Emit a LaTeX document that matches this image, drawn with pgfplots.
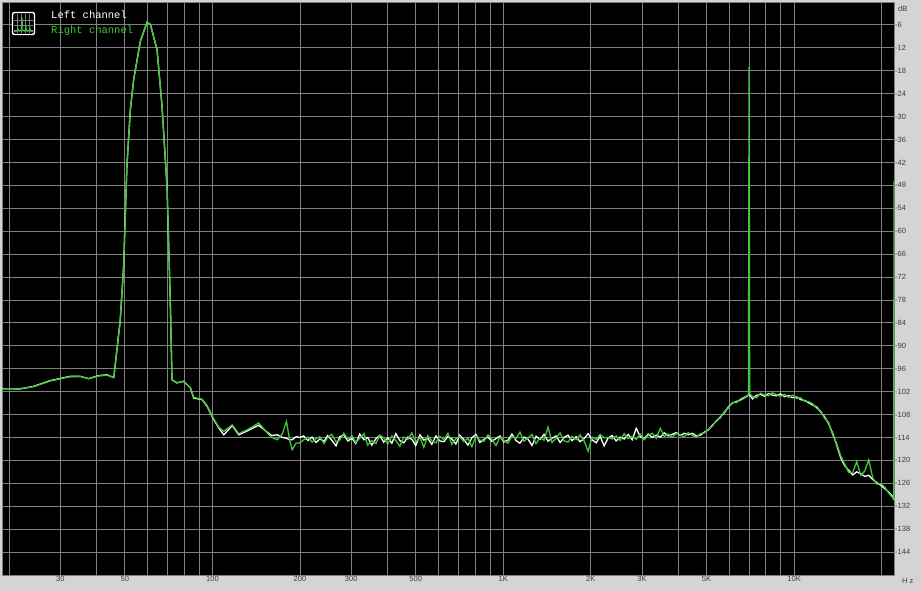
\documentclass[border=0pt]{standalone}
\usepackage{fontspec}
\setmainfont{Liberation Sans}
\newfontfamily\monofont{Liberation Mono}
\usepackage{pgfplots}
\usepackage{pgfplotstable}
\pgfplotsset{compat=1.18}
\definecolor{bggray}{RGB}{212,212,212}
\definecolor{gridgray}{RGB}{128,128,128}
\definecolor{chgreen}{RGB}{64,200,56}
\definecolor{labgray}{RGB}{60,60,60}

\pgfplotstableread{
f L R
18.6 -101.2 -101.3
21.8 -101.3 -101.2
24.3 -100.6 -100.7
27.7 -99.1 -99.2
32.4 -98.0 -98.1
35.1 -98.0 -98.0
37.5 -98.6 -98.6
40.6 -97.8 -97.9
43.4 -97.6 -97.7
45.8 -98.3 -98.3
48.2 -83.2 -83.2
49.5 -69.2 -69.2
50.8 -43.0 -43.0
52.2 -28.2 -28.2
53.6 -20.3 -20.3
56.5 -10.3 -10.3
59.6 -5.3 -5.3
61.2 -5.9 -5.9
64.5 -12.5 -12.5
67.1 -27.3 -27.3
69.8 -48.3 -48.3
71.6 -77.9 -77.9
72.6 -98.9 -98.9
75.5 -99.7 -99.7
79.6 -99.3 -99.3
84.0 -101.0 -101.0
86.2 -103.7 -103.5
92.2 -104.1 -104.0
95.9 -105.9 -105.7
101 -109.3 -109.1
105.1 -111.5 -111.3
109.4 -113.3 -112.4
116.9 -110.9 -110.7
123.2 -113.3 -113.0
131.6 -112.3 -112.0
144.2 -110.8 -110.2
154.2 -112.6 -112.8
160 -113.5 -114.0
167 -113.3 -114.6
174 -114.0 -113.0
179.8 -114.2 -109.8
184 -114.6 -114.5
188 -114.6 -117.2
194 -113.8 -115.5
200 -114.0 -115.4
206 -113.6 -114.6
213 -114.8 -113.9
220 -113.9 -115.2
227 -115.3 -114.3
234 -114.4 -113.8
242 -115.0 -115.6
249 -113.5 -114.0
257 -114.7 -113.2
266 -116.2 -115.1
274 -113.8 -114.7
283 -113.3 -112.9
292 -114.9 -114.4
302 -114.2 -113.6
311 -115.6 -115.3
321 -113.1 -114.2
332 -114.6 -113.0
342 -114.0 -116.0
353 -116.0 -114.8
365 -114.3 -115.6
376 -113.5 -113.4
388 -115.2 -114.1
401 -114.1 -115.7
414 -115.5 -113.6
427 -113.0 -114.8
441 -114.8 -116.3
455 -115.4 -113.9
470 -113.9 -114.5
485 -114.5 -112.8
500 -116.1 -115.2
517 -113.3 -114.0
533 -114.7 -116.6
550 -114.2 -113.5
568 -115.8 -114.9
587 -113.6 -115.4
605 -114.9 -113.7
625 -115.1 -114.6
645 -113.8 -112.9
666 -114.4 -115.8
687 -115.7 -114.3
709 -113.4 -113.8
732 -114.6 -115.1
756 -116.0 -114.2
780 -114.1 -116.4
805 -113.2 -113.6
831 -115.3 -114.7
858 -114.5 -115.0
886 -113.9 -113.3
914 -115.0 -114.5
944 -114.3 -116.1
974 -113.6 -113.9
1005 -115.2 -114.8
1038 -114.7 -115.5
1071 -113.1 -113.7
1106 -114.8 -114.3
1141 -115.5 -112.6
1178 -113.9 -115.0
1216 -114.4 -114.1
1255 -116.1 -113.2
1296 -113.7 -115.6
1338 -114.5 -114.0
1381 -113.2 -114.7
1425 -115.0 -111.3
1471 -114.2 -115.3
1519 -113.6 -114.2
1568 -115.3 -112.8
1618 -114.0 -114.9
1670 -113.4 -115.2
1724 -114.8 -113.7
1780 -113.8 -114.6
1837 -115.1 -113.3
1896 -114.3 -114.9
1958 -113.0 -117.6
2021 -114.6 -113.9
2086 -115.4 -114.5
2153 -113.7 -113.2
2222 -116.2 -114.1
2294 -114.1 -114.0
2368 -113.5 -114.4
2444 -114.9 -113.6
2523 -113.9 -114.8
2605 -114.4 -113.0
2689 -113.2 -114.3
2775 -114.6 -113.8
2865 -111.6 -114.5
2957 -113.8 -113.1
3052 -114.3 -114.6
3151 -113.1 -113.4
3252 -114.0 -112.9
3357 -113.4 -114.2
3466 -113.9 -111.6
3577 -112.8 -113.7
3693 -113.6 -113.1
3812 -113.2 -114.0
3935 -112.7 -112.9
4061 -113.5 -113.4
4192 -112.9 -113.8
4327 -113.3 -112.7
4467 -112.9 -113.5
4611 -113.6 -113.9
4760 -113.4 -113.0
4913 -112.6 -112.8
5072 -112.0 -111.9
5235 -110.8 -111.0
5404 -109.7 -109.5
5578 -108.6 -108.9
5758 -107.5 -107.2
5944 -106.0 -106.3
6135 -105.0 -104.8
6333 -104.6 -104.9
6537 -104.2 -103.9
6748 -103.6 -103.4
6966 -103.0 -102.9
7000 -101.5 -16.9
7034 -102.8 -102.5
7190 -103.9 -103.3
7422 -103.0 -103.6
7661 -102.7 -102.4
7908 -103.2 -102.9
8163 -102.5 -103.1
8426 -102.9 -102.3
8698 -103.1 -102.8
8979 -102.6 -103.2
9268 -103.3 -102.7
9567 -103.0 -103.5
9876 -103.6 -102.9
10194 -103.4 -103.8
10523 -104.1 -103.6
10863 -104.3 -104.5
11213 -104.9 -104.6
11575 -105.5 -105.2
11949 -106.0 -106.4
12334 -107.3 -107.0
12732 -108.6 -109.0
13143 -110.4 -110.1
13567 -112.9 -113.3
14005 -116.0 -115.6
14457 -119.3 -118.8
14923 -121.4 -121.0
15405 -122.6 -123.1
15902 -123.8 -123.2
16415 -123.0 -120.3
16944 -123.5 -123.9
17491 -124.2 -122.8
18055 -123.9 -119.8
18638 -125.0 -124.6
19239 -125.8 -126.2
19860 -126.5 -126.1
20501 -127.4 -127.0
21162 -128.3 -128.6
21845 -129.5 -129.8
22000 -130.2 -130.0
22050 -130.2 -46.8
}\spectrum

\begin{document}
\begin{tikzpicture}[x=1pt,y=1pt]
\fill[bggray] (0,0) rectangle (921,591);
\path[use as bounding box] (0,0) rectangle (921,591);
\begin{axis}[
  name=ax,
  at={(2pt,16pt)}, anchor=south west,
  scale only axis, width=892pt, height=573pt,
  xmode=log, xmin=18.9, xmax=22050,
  ymin=-150, ymax=0,
  axis background/.style={fill=black},
  axis line style={gridgray, line width=0.8pt},
  xtick={30,50,100,200,300,500,1000,2000,3000,5000,10000},
  xticklabels={30,50,100,200,300,500,1K,2K,3K,5K,10K},
  minor xtick={20,40,60,70,80,90,400,600,700,800,900,4000,6000,7000,8000,9000,20000},
  ytick={-6,-12,...,-144},
  yticklabels={-6,-12,-18,-24,-30,-36,-42,-48,-54,-60,-66,-72,-78,-84,-90,-96,-102,-108,-114,-120,-126,-132,-138,-144},
  yticklabel pos=right,
  grid=both,
  major grid style={gridgray, line width=0.9pt},
  minor grid style={gridgray, line width=0.9pt},
  major tick length=0pt, minor tick length=0pt,
  tick style={draw=none},
  tick label style={font=\fontsize{7.5}{8}\selectfont, text=labgray, inner sep=0pt},
  xticklabel style={anchor=north, yshift=-1.5pt},
  yticklabel style={anchor=west, xshift=1pt},
  clip=true,
]
\addplot[white, line width=1.3pt] table[x=f, y=L] {\spectrum};
\addplot[chgreen, line width=1.3pt] table[x=f, y=R] {\spectrum};
\end{axis}
\node[anchor=west, inner sep=0pt, font=\fontsize{7.5}{8}\selectfont, text=labgray] at (ax.north east) [xshift=4pt, yshift=-6.5pt] {dB};
\node[anchor=west, inner sep=0pt, font=\fontsize{7.5}{8}\selectfont, text=labgray] at (ax.south east) [xshift=8pt, yshift=-6pt] {H z};
% legend icon
\draw[white, line width=1.4pt, rounded corners=2pt, fill=black] (12.5,556.5) rectangle (34.5,578.5);
\foreach \gx in {17,21,25,29} {\draw[gridgray, line width=0.6pt] (\gx,558) -- (\gx,577);}
\foreach \gy in {561,566,571} {\draw[gridgray, line width=0.6pt] (14,\gy) -- (33,\gy);}
\draw[chgreen, line width=0.8pt] (14,559.5) -- (17,559.8) -- (18,562) -- (19,559.7) -- (21,560) -- (22,574) -- (23,560) -- (25,559.8) -- (26,564) -- (27,559.6) -- (29,560.2) -- (30,562.5) -- (31,559.5) -- (33,559.5);
\node[anchor=west, inner sep=0pt, text=white, font=\monofont\fontsize{10.5}{12}\selectfont] at (51,576) {Left channel};
\node[anchor=west, inner sep=0pt, text=chgreen, font=\monofont\fontsize{10.5}{12}\selectfont] at (51,560) {Right channel};
\end{tikzpicture}
\end{document}
